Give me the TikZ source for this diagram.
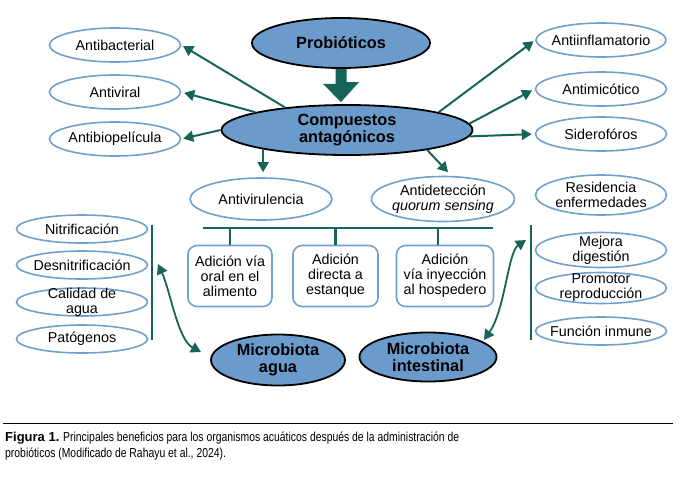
\documentclass[tikz,border=0pt]{standalone}
\usepackage{fontspec}
\setmainfont{Liberation Sans}
\newfontfamily\capfont[FakeStretch=0.8]{Liberation Sans}
\usetikzlibrary{shapes.geometric,arrows.meta}
\definecolor{fillblue}{RGB}{106,155,203}
\definecolor{edgeblue}{RGB}{112,160,206}
\definecolor{arrowteal}{RGB}{22,100,88}
\tikzset{
  mainell/.style={ellipse, draw=black, line width=1.8pt, fill=fillblue, inner sep=-25pt, align=center,
    font=\fontsize{16.3}{17}\selectfont\bfseries},
  effect/.style={ellipse, draw=edgeblue, line width=1.6pt, fill=white, inner sep=-25pt, align=center,
    minimum width=131pt, minimum height=34pt},
  viabox/.style={rectangle, rounded corners=9pt, draw=edgeblue, line width=1.6pt, inner sep=0pt,
    minimum height=61pt, align=center},
  tealarrow/.style={draw=arrowteal, line width=2pt, -{Triangle[length=10pt,width=11pt]}},
  twoway/.style={draw=arrowteal, line width=1.8pt, {Triangle[length=10pt,width=11pt]}-{Triangle[length=10pt,width=11pt]}},
  tealline/.style={draw=arrowteal, line width=2.6pt},
}
\begin{document}
\begin{tikzpicture}[x=1pt, y=-1pt, every node/.style={font=\fontsize{14.3}{15}\selectfont}]
  \useasboundingbox (0,0) rectangle (679,477);

  % main ellipses
  \node[mainell, minimum width=178pt, minimum height=50pt] (probio) at (341,43) {Probióticos};
  \node[mainell, minimum width=251pt, minimum height=50pt] (comp) at (347,130) {Compuestos\\antagónicos};
  \node[mainell, minimum width=134pt, minimum height=51pt] (magua) at (278,360) {Microbiota\\agua};
  \node[mainell, minimum width=137pt, minimum height=49pt] (mint) at (428,357) {Microbiota\\intestinal};

  % big arrow
  \coordinate (tip) at (probio.south |- comp.north);
  \fill[arrowteal] ([xshift=-5.5pt]probio.south) -- ++(0,15) -- ++(-12.5,0) -- ([yshift=2pt]tip)
    -- ++(18,-20) -- ++(-12.5,0) -- ([xshift=5.5pt]probio.south) -- cycle;

  % left effects
  \node[effect] (abac) at (115,45) {Antibacterial};
  \node[effect] (avir) at (115,92) {Antiviral};
  \node[effect] (abio) at (115,139) {Antibiopelícula};

  % right effects
  \node[effect, minimum width=130pt] (ainf) at (601,40) {Antiinflamatorio};
  \node[effect] (amic) at (601,89) {Antimicótico};
  \node[effect] (sider) at (601,134) {Siderofóros};

  % second row
  \node[effect, minimum width=142pt, minimum height=42pt] (avirul) at (261,199) {Antivirulencia};
  \node[effect, minimum width=143pt, minimum height=45pt] (adet) at (443,199) {Antidetección\\\textit{quorum sensing}};
  \node[effect, minimum height=40pt] (resid) at (601,195) {Residencia\\enfermedades};

  % ways of adding
  \node[viabox, minimum width=84pt] (oral) at (230,276) {Adición vía\\oral en el\\alimento};
  \node[viabox, minimum width=85pt] (direc) at (335.5,276) {Adición\\directa a\\estanque};
  \node[viabox, minimum width=97pt] (inyec) at (445,276) {Adición\\vía inyección\\al hospedero};

  % water list
  \node[effect, minimum height=28pt] (nitri) at (82,229) {Nitrificación};
  \node[effect, minimum height=28pt] (desni) at (82,265) {Desnitrificación};
  \node[effect, minimum height=28pt] (calid) at (82,302) {Calidad de\\agua};
  \node[effect, minimum height=28pt] (patog) at (82,339) {Patógenos};

  % host list
  \node[effect, minimum height=35pt] (dige) at (601,250) {Mejora\\digestión};
  \node[effect, minimum height=31pt] (repro) at (601,288) {Promotor\\reproducción};
  \node[effect, minimum height=28pt] (inmu) at (601,331) {Función inmune};

  % arrows from compuestos
  \draw[tealarrow, shorten >=2pt] (comp.160) -- (abac.east);
  \draw[tealarrow, shorten >=3pt] (comp.169) -- (avir.east);
  \draw[tealarrow, shorten >=2pt] (comp.west) -- (abio.east);
  \draw[tealarrow, shorten >=2pt] (comp.11) -- (ainf.west);
  \draw[tealarrow, shorten >=3pt] (comp.3) -- (amic.west);
  \draw[tealarrow, shorten >=3pt] (comp.-3) -- (sider.west);
  \draw[tealarrow, shorten >=5pt] (comp.193) -- (comp.193 |- avirul.north);
  \draw[tealarrow, shorten >=5pt] (comp.-14) -- (adet.70);

  % bus and bars
  \coordinate (busL) at (203,228);
  \coordinate (busR) at (493,228);
  \draw[tealline] (busL) -- (busR);
  \draw[tealline] (oral.north) -- (oral.north |- busL);
  \draw[tealline] (direc.north) -- (direc.north |- busL);
  \draw[tealline] ([xshift=-7pt]inyec.north) -- ([xshift=-7pt]inyec.north |- busL);
  \draw[tealline] (152,225) -- (152,340);
  \draw[tealline] (531,225) -- (531,340);

  % curved links
  \coordinate (wend) at (158,264);
  \coordinate (hend) at (526,240);
  \draw[twoway] (wend) .. controls (170,290) and (178,340) .. (201,352);
  \draw[twoway] (hend) .. controls (508,252) and (505,310) .. (484,340);

  % caption
  \draw[line width=0.8pt] (3,423) -- (673,423);
  \node[anchor=west, align=left, inner sep=0pt, font=\capfont\fontsize{13}{16}\selectfont] (cap) at (5,446)
    {{\normalfont\bfseries Figura 1.} Principales beneficios para los organismos acuáticos después de la administración de\\probióticos (Modificado de Rahayu et al., 2024).};
\end{tikzpicture}
\end{document}
